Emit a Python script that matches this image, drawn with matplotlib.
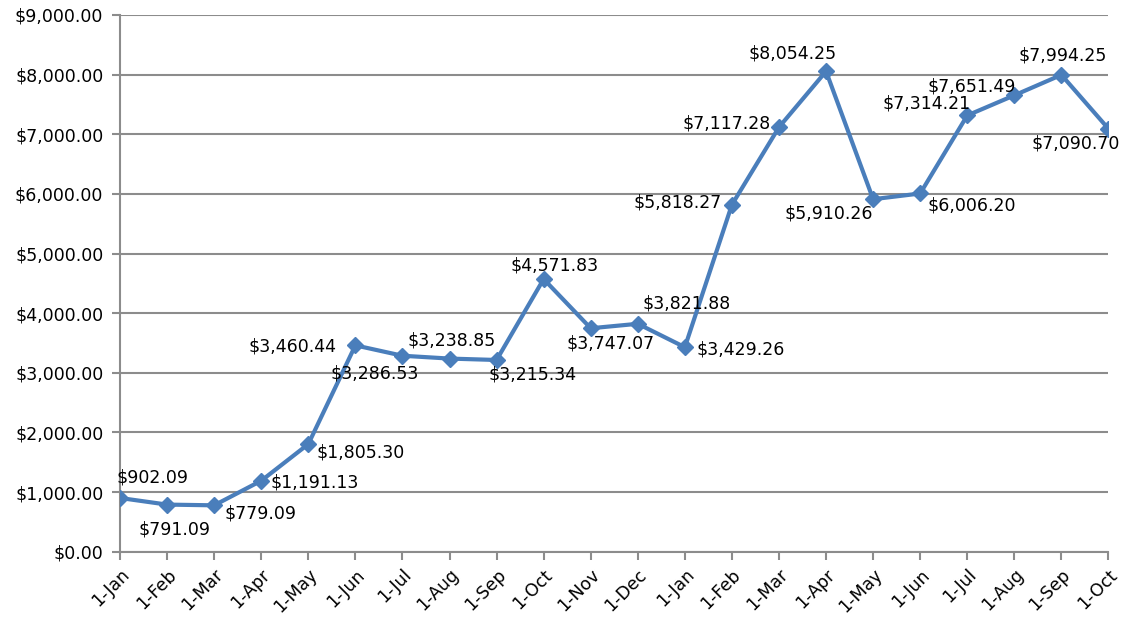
import matplotlib.pyplot as plt
from matplotlib.ticker import FuncFormatter

# --- Daten ---
months = ['1-Jan', '1-Feb', '1-Mar', '1-Apr', '1-May', '1-Jun', '1-Jul', '1-Aug',
          '1-Sep', '1-Oct', '1-Nov', '1-Dec', '1-Jan', '1-Feb', '1-Mar', '1-Apr',
          '1-May', '1-Jun', '1-Jul', '1-Aug', '1-Sep', '1-Oct']
values = [902.09, 791.09, 779.09, 1191.13, 1805.30, 3460.44, 3286.53, 3238.85,
          3215.34, 4571.83, 3747.07, 3821.88, 3429.26, 5818.27, 7117.28, 8054.25,
          5910.26, 6006.20, 7314.21, 7651.49, 7994.25, 7090.70]

# Label-Versatz in Pixeln (wie Excel sie platziert hat)
label_offsets = [(32, 20), (7, -25), (46, -8), (53, -2), (52, -8), (-63, -1),
                 (-28, -18), (2, 18), (36, -15), (11, 14), (20, -15), (49, 20),
                 (56, -2), (-54, 2), (-52, 4), (-33, 18), (-44, -14), (52, -12),
                 (-41, 12), (-43, 9), (1, 19), (-33, -15)]

blue = '#4A7EBB'
grid_gray = '#8C8C8C'
fs = 12.5

fig = plt.figure(figsize=(11.25, 6.2), dpi=100)
ax = fig.add_axes([0.1067, 0.110, 0.8786, 0.866])

x = list(range(len(values)))
ax.plot(x, values, color=blue, lw=3, marker='D', ms=8, mec=blue, mfc=blue, zorder=3)

for i, (v, (dx, dy)) in enumerate(zip(values, label_offsets)):
    ax.annotate(f'${v:,.2f}', (i, v), xytext=(dx, dy), textcoords='offset pixels',
                ha='center', va='center', fontsize=fs, color='black', zorder=4)

ax.set_xlim(0, len(values) - 1)
ax.set_ylim(0, 9000)
ax.set_yticks(range(0, 9001, 1000))
ax.yaxis.set_major_formatter(FuncFormatter(lambda v, p: f'${v:,.2f}'))
ax.set_xticks(x)
ax.set_xticklabels(months, rotation=45, ha='right', rotation_mode='anchor')

ax.grid(True, axis='y', color=grid_gray, lw=1.5)
ax.set_axisbelow(True)
for side in ['top', 'right']:
    ax.spines[side].set_visible(False)
for side in ['left', 'bottom']:
    ax.spines[side].set_color(grid_gray)
    ax.spines[side].set_linewidth(1.5)
ax.tick_params(axis='both', colors=grid_gray, length=6, width=1.5, labelsize=fs,
               labelcolor='black')
ax.tick_params(axis='y', pad=6)
ax.tick_params(axis='x', pad=4)

fig.savefig('out.png', dpi=100)
